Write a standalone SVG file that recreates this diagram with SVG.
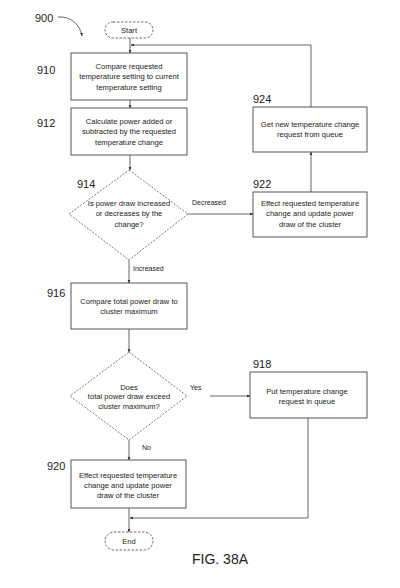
<svg xmlns="http://www.w3.org/2000/svg" width="400" height="588" viewBox="0 0 400 588">
<style>
.box{fill:#fff;stroke:#444;stroke-width:0.9}
.dia{fill:#fff;stroke:#555;stroke-width:0.8;stroke-dasharray:2 1.5}
.pill{fill:#fff;stroke:#444;stroke-width:0.8;stroke-dasharray:2.5 1.5}
.t{font-family:"Liberation Sans",Arial,sans-serif;font-size:7.6px;fill:#222;text-anchor:middle}
.lbl{font-family:"Liberation Sans",Arial,sans-serif;font-size:11px;fill:#222}
.el{font-family:"Liberation Sans",Arial,sans-serif;font-size:7px;fill:#222}
.c{fill:none;stroke:#555;stroke-width:0.9}
</style>
<defs>
<marker id="ah" viewBox="0 0 10 10" refX="9" refY="5" markerWidth="4" markerHeight="4" orient="auto">
<path d="M0,1 L10,5 L0,9 z" fill="#333"/>
</marker>
</defs>
<rect width="400" height="588" fill="#fff"/>

<g id="connectors">
<path class="c" d="M58,17 C70,16 80,24 82,36" marker-end="url(#ah)"/>
<line class="c" x1="130" y1="38" x2="130" y2="53" marker-end="url(#ah)"/>
<line class="c" x1="130" y1="100" x2="130" y2="108" marker-end="url(#ah)"/>
<line class="c" x1="130" y1="155" x2="130" y2="170" marker-end="url(#ah)"/>
<line class="c" x1="188" y1="214" x2="253" y2="214" marker-end="url(#ah)"/>
<line class="c" x1="311" y1="192" x2="311" y2="152" marker-end="url(#ah)"/>
<path class="c" d="M311,107 L311,45 L131,45" marker-end="url(#ah)"/>
<line class="c" x1="129" y1="260" x2="129" y2="283" marker-end="url(#ah)"/>
<line class="c" x1="129" y1="329" x2="129" y2="352" marker-end="url(#ah)"/>
<line class="c" x1="210" y1="396" x2="250" y2="396" marker-end="url(#ah)"/>
<line class="c" x1="129" y1="440" x2="129" y2="460" marker-end="url(#ah)"/>
<path class="c" d="M308,418 L308,518 L130,518" marker-end="url(#ah)"/>
<line class="c" x1="129" y1="508" x2="129" y2="532" marker-end="url(#ah)"/>
</g>

<g id="label900"><text class="lbl" x="35" y="22" font-size="10">900</text></g>

<g id="start">
<rect class="pill" x="105" y="22" width="48" height="16" rx="8"/>
<text class="t" x="129" y="33">Start</text>
</g>

<g id="n910">
<rect class="box" x="71" y="53" width="116" height="47"/>
<text class="t" x="129" y="69">Compare requested</text>
<text class="t" x="129" y="79">temperature setting to current</text>
<text class="t" x="129" y="90">temperature setting</text>
<text class="lbl" x="37" y="74">910</text>
</g>

<g id="n912">
<rect class="box" x="71" y="108" width="116" height="47"/>
<text class="t" x="129" y="124">Calculate power added or</text>
<text class="t" x="129" y="134">subtracted by the requested</text>
<text class="t" x="129" y="145">temperature change</text>
<text class="lbl" x="37" y="127">912</text>
</g>

<g id="n914">
<polygon class="dia" points="129,170 188,214 129,260 69,214"/>
<text class="t" x="129" y="206">Is power draw increased</text>
<text class="t" x="129" y="216">or decreases by the</text>
<text class="t" x="129" y="227">change?</text>
<text class="lbl" x="77" y="188">914</text>
</g>

<g id="n922">
<rect class="box" x="253" y="192" width="114" height="45"/>
<text class="t" x="310" y="206">Effect requested temperature</text>
<text class="t" x="310" y="216">change and update power</text>
<text class="t" x="310" y="227">draw of the cluster</text>
<text class="lbl" x="253" y="188">922</text>
</g>

<g id="n924">
<rect class="box" x="253" y="107" width="114" height="45"/>
<text class="t" x="310" y="127">Get new temperature change</text>
<text class="t" x="310" y="137">request from queue</text>
<text class="lbl" x="253" y="103">924</text>
</g>

<g id="n916">
<rect class="box" x="71" y="283" width="116" height="46"/>
<text class="t" x="129" y="304">Compare total power draw to</text>
<text class="t" x="129" y="314">cluster maximum</text>
<text class="lbl" x="47" y="297">916</text>
</g>

<g id="n_decision2">
<polygon class="dia" points="129,352 187,396 129,440 70,396"/>
<text class="t" x="129" y="390">Does</text>
<text class="t" x="129" y="399">total power draw exceed</text>
<text class="t" x="129" y="409">cluster maximum?</text>
</g>

<g id="n918">
<rect class="box" x="250" y="372" width="117" height="46"/>
<text class="t" x="307" y="394">Put temperature change</text>
<text class="t" x="307" y="404">request in queue</text>
<text class="lbl" x="253" y="368">918</text>
</g>

<g id="n920">
<rect class="box" x="71" y="460" width="115" height="48"/>
<text class="t" x="128" y="478">Effect requested temperature</text>
<text class="t" x="128" y="488">change and update power</text>
<text class="t" x="128" y="498">draw of the cluster</text>
<text class="lbl" x="47" y="470">920</text>
</g>

<g id="end">
<rect class="pill" x="105" y="532" width="48" height="18" rx="9"/>
<text class="t" x="129" y="544">End</text>
</g>

<g id="edge-labels">
<text class="el" x="192" y="205">Decreased</text>
<text class="el" x="133" y="271">Increased</text>
<text class="el" x="190" y="390">Yes</text>
<text class="el" x="142" y="450">No</text>
</g>

<text x="192" y="564" font-family="'Liberation Sans',Arial,sans-serif" font-size="14" fill="#222">FIG. 38A</text>
</svg>
